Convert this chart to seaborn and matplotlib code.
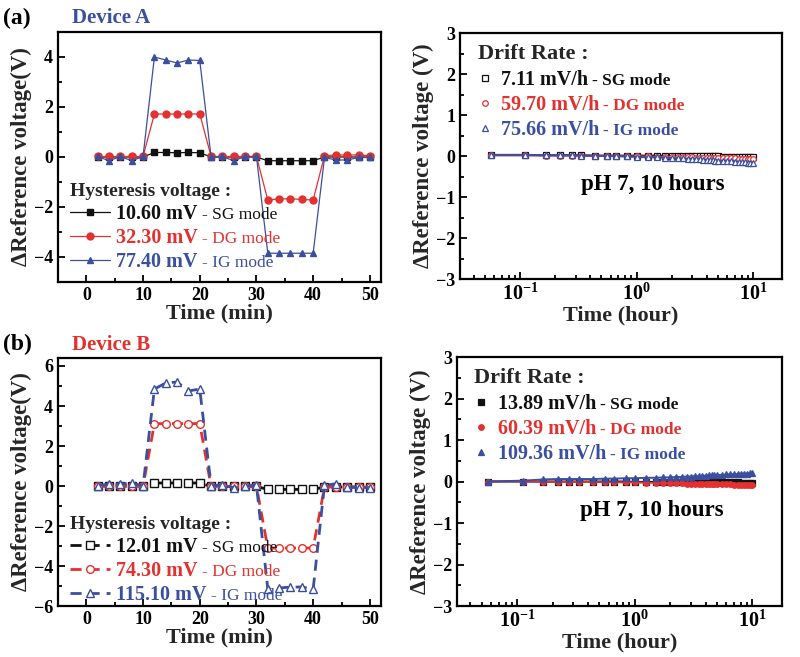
import numpy as np
import pandas as pd
import matplotlib
matplotlib.use("Agg")
import matplotlib.pyplot as plt
from matplotlib.lines import Line2D
from matplotlib.ticker import MultipleLocator, LogLocator, NullFormatter
import seaborn as sns

# Colours
BLACK = "#111111"
RED = "#e2312f"
BLUE = "#3a4f9f"

# ---- Hysteresis data (time in min) ----
time_min = [2, 4, 6, 8, 10, 12, 14, 16, 18, 20, 22, 24, 26, 28, 30,
            32, 34, 36, 38, 40, 42, 44, 46, 48, 50]

a_sg = [0.0, 0.0, 0.0, 0.0, 0.0, 0.18, 0.18, 0.17, 0.18, 0.17, 0.0, 0.0, 0.0, 0.0, 0.0,
        -0.15, -0.15, -0.15, -0.15, -0.15, 0.0, 0.0, 0.0, 0.0, 0.0]
a_dg = [0.02, 0.02, 0.02, 0.02, 0.02, 1.72, 1.72, 1.72, 1.72, 1.72, 0.02, 0.02, 0.02, 0.02, 0.02,
        -1.72, -1.68, -1.67, -1.70, -1.72, 0.05, 0.08, 0.08, 0.08, 0.05]
a_ig = [0.02, -0.15, 0.02, -0.15, 0.02, 4.0, 3.88, 3.76, 3.88, 3.86, 0.0, 0.02, -0.15, 0.02, 0.02,
        -3.85, -3.85, -3.85, -3.85, -3.85, -0.02, -0.12, -0.12, -0.02, -0.02]

b_sg = [0.0, 0.0, 0.0, 0.0, 0.0, 0.15, 0.15, 0.15, 0.15, 0.15, -0.02, -0.02, -0.02, -0.02, -0.02,
        -0.17, -0.17, -0.17, -0.17, -0.17, -0.05, -0.05, -0.05, -0.05, -0.05]
b_dg = [0.0, 0.0, 0.0, 0.0, 0.0, 3.12, 3.12, 3.12, 3.12, 3.12, -0.02, -0.02, -0.02, -0.02, -0.02,
        -3.10, -3.10, -3.10, -3.10, -3.10, -0.05, -0.05, -0.05, -0.05, -0.05]
b_ig = [0.02, 0.10, 0.10, 0.15, 0.0, 4.85, 5.15, 5.20, 4.75, 4.85, 0.02, 0.05, -0.08, 0.0, 0.05,
        -5.15, -5.10, -5.05, -5.05, -5.15, 0.05, 0.10, -0.05, -0.08, -0.08]

hyst_a_labels = ["10.60 mV", "32.30 mV", "77.40 mV"]
hyst_b_labels = ["12.01 mV", "74.30 mV", "115.10 mV"]
mode_labels = ["- SG mode", "- DG mode", "- IG mode"]

# ---- Drift data (time in hours) ----
time_h = [0.056, 0.111, 0.167, 0.222, 0.278, 0.333, 0.444, 0.556, 0.667, 0.833, 1.0,
          1.25, 1.5, 1.75, 2.0, 2.25, 2.5, 2.75, 3.0, 3.25, 3.5, 3.75, 4.0, 4.25, 4.5, 4.75, 5.0,
          5.5, 6.0, 6.5, 7.0, 7.5, 8.0, 8.5, 9.0, 9.5, 10.0]

da_sg = [0.02, 0.02, 0.02, 0.02, 0.02, 0.02, 0.01, 0.01, 0.01, 0.01, 0.01,
         0.01, 0.01, 0.0, 0.0, 0.0, 0.0, 0.0, -0.01, -0.01, -0.01, -0.01, -0.01, -0.01, -0.01, -0.01, -0.01,
         -0.02, -0.02, -0.02, -0.02, -0.02, -0.02, -0.02, -0.02, -0.02, -0.02]
da_dg = [0.02, 0.02, 0.01, 0.01, 0.01, 0.01, 0.0, 0.0, 0.0, -0.01, -0.01,
         -0.01, -0.02, -0.02, -0.02, -0.03, -0.03, -0.03, -0.03, -0.04, -0.04, -0.04, -0.04, -0.05, -0.05, -0.05, -0.05,
         -0.05, -0.06, -0.06, -0.06, -0.07, -0.07, -0.07, -0.08, -0.08, -0.08]
da_ig = [0.03, 0.03, 0.02, 0.02, 0.02, 0.01, 0.01, 0.0, 0.0, -0.01, -0.02,
         -0.03, -0.03, -0.04, -0.05, -0.05, -0.06, -0.07, -0.07, -0.08, -0.08, -0.09, -0.09, -0.10, -0.10, -0.11, -0.11,
         -0.12, -0.12, -0.13, -0.14, -0.14, -0.15, -0.15, -0.16, -0.16, -0.17]

db_sg = [0.0, 0.0, 0.0, 0.0, 0.0, 0.0, 0.0, 0.0, 0.0, 0.0, -0.01,
         -0.01, -0.01, -0.01, -0.01, -0.01, -0.01, -0.01, -0.01, -0.01, -0.01, -0.01, -0.01, -0.01, -0.01, -0.01, -0.01,
         -0.02, -0.02, -0.02, -0.02, -0.02, -0.03, -0.03, -0.03, -0.03, -0.03]
db_dg = [0.0, 0.0, -0.01, -0.01, -0.01, -0.01, -0.01, -0.02, -0.02, -0.02, -0.02,
         -0.03, -0.03, -0.03, -0.04, -0.04, -0.04, -0.05, -0.05, -0.05, -0.05, -0.06, -0.06, -0.06, -0.06, -0.06, -0.07,
         -0.07, -0.07, -0.07, -0.08, -0.08, -0.08, -0.08, -0.09, -0.09, -0.09]
db_ig = [0.0, 0.02, 0.05, 0.06, 0.06, 0.06, 0.06, 0.07, 0.07, 0.08, 0.08,
         0.09, 0.09, 0.10, 0.10, 0.11, 0.11, 0.12, 0.12, 0.13, 0.13, 0.14, 0.14, 0.15, 0.15, 0.15, 0.16,
         0.16, 0.17, 0.17, 0.18, 0.18, 0.19, 0.19, 0.19, 0.20, 0.20]

drift_a_labels = ["7.11 mV/h", "59.70 mV/h", "75.66 mV/h"]
drift_b_labels = ["13.89 mV/h", "60.39 mV/h", "109.36 mV/h"]

sns.set_theme(style="ticks")
plt.rcParams["font.family"] = ["Liberation Serif", "DejaVu Serif"]
plt.rcParams["font.weight"] = "bold"
plt.rcParams["axes.labelweight"] = "bold"
plt.rcParams["mathtext.fontset"] = "custom"
plt.rcParams["mathtext.rm"] = "Liberation Serif:bold"
plt.rcParams["mathtext.it"] = "Liberation Serif:bold"
plt.rcParams["mathtext.bf"] = "Liberation Serif:bold"

fig = plt.figure(figsize=(8, 6.57), dpi=100)
ax_tl = fig.add_axes([0.0725, 0.5708, 0.404, 0.3805])
ax_tr = fig.add_axes([0.575, 0.5753, 0.4025, 0.3744])
ax_bl = fig.add_axes([0.0725, 0.0776, 0.404, 0.3775])
ax_br = fig.add_axes([0.571, 0.0776, 0.406, 0.379])

colors = [BLACK, RED, BLUE]
markers = ["s", "o", "^"]


def style_axes(ax):
    for s in ax.spines.values():
        s.set_linewidth(1.6)
        s.set_color("black")
    ax.tick_params(which="both", direction="in", top=False, right=False,
                   labelsize=13, width=1.3, colors="black")
    ax.tick_params(which="major", length=5)
    ax.tick_params(which="minor", length=3)
    for t in ax.get_xticklabels() + ax.get_yticklabels():
        t.set_fontweight("bold")


def add_suffixes(ax, leg, weight):
    # small "- XX mode" text right after each bold legend value
    for t, c, mode in zip(leg.get_texts(), colors, mode_labels):
        ax.annotate(mode, xy=(1, 0), xycoords=t, xytext=(3, 0.6),
                    textcoords="offset points", ha="left", va="bottom",
                    fontsize=12.5, fontweight=weight, color=c)


def hysteresis_panel(ax, series, labels, filled, dashed, ylim, yticks, anchor_y):
    handles = []
    for y, c, m, lab in zip(series, colors, markers, labels):
        df = pd.DataFrame({"t": time_min, "v": y})
        kw = dict(color=c, marker=m, markersize=5 if filled else 5.5,
                  markeredgecolor=c, markeredgewidth=1.0,
                  markerfacecolor=c if filled else "white",
                  linewidth=2.0 if dashed else 0.9,
                  linestyle=(0, (4, 2.5)) if dashed else "-")
        sns.lineplot(data=df, x="t", y="v", ax=ax, legend=False, **kw)
        handles.append(Line2D([], [], **kw))
    ax.set_xlim(-5, 52)
    ax.set_ylim(*ylim)
    ax.set_xticks([0, 10, 20, 30, 40, 50])
    ax.xaxis.set_minor_locator(MultipleLocator(5))
    ax.set_yticks(yticks)
    ax.yaxis.set_minor_locator(MultipleLocator(1))
    ax.set_xlabel("Time (min)", fontsize=16, fontweight="bold", labelpad=0)
    ax.set_ylabel("ΔReference voltage(V)", fontsize=16.5, fontweight="bold", labelpad=1)
    style_axes(ax)
    leg = ax.legend(handles, labels, loc="lower left", bbox_to_anchor=(0.0, anchor_y),
                    frameon=False, title="Hysteresis voltage :", handlelength=2.0,
                    handletextpad=0.3, labelspacing=0.2, borderaxespad=0.2,
                    prop={"size": 14.5, "weight": "bold"},
                    title_fontproperties={"size": 14, "weight": "bold"})
    leg._legend_box.align = "left"
    for t, c in zip(leg.get_texts(), colors):
        t.set_color(c)
    add_suffixes(ax, leg, "normal")


def drift_panel(ax, series, labels, filled):
    handles = []
    for y, c, m in zip(series, colors, markers):
        df = pd.DataFrame({"t": time_h, "v": y})
        kw = dict(color=c, marker=m, markersize=4,
                  markeredgecolor=c, markeredgewidth=0.9,
                  markerfacecolor=c if filled else "white")
        sns.lineplot(data=df, x="t", y="v", ax=ax, legend=False, linewidth=1.4, **kw)
        handles.append(Line2D([], [], linestyle="none", **kw))
    ax.set_xscale("log")
    ax.set_xlim(0.0306, 17.7)
    ax.set_ylim(-3, 3)
    ax.set_yticks([-3, -2, -1, 0, 1, 2, 3])
    ax.yaxis.set_minor_locator(MultipleLocator(0.5))
    ax.xaxis.set_major_locator(LogLocator(base=10, numticks=10))
    ax.xaxis.set_minor_locator(LogLocator(base=10, subs=np.arange(2, 10), numticks=10))
    ax.xaxis.set_minor_formatter(NullFormatter())
    ax.set_xlabel("Time (hour)", fontsize=16, fontweight="bold", labelpad=0)
    ax.set_ylabel("ΔReference voltage (V)", fontsize=16.5, fontweight="bold", labelpad=1)
    style_axes(ax)
    ax.tick_params(axis="x", labelsize=14.5)
    leg = ax.legend(handles, labels, loc="upper left", bbox_to_anchor=(0.02, 1.0),
                    frameon=False, title="Drift Rate :", handlelength=0.7,
                    handletextpad=0.45, labelspacing=0.25, borderaxespad=0.15,
                    prop={"size": 14.5, "weight": "bold"},
                    title_fontproperties={"size": 16, "weight": "bold"})
    leg._legend_box.align = "left"
    leg._legend_box.sep = 4
    for t, c in zip(leg.get_texts(), colors):
        t.set_color(c)
    add_suffixes(ax, leg, "bold")
    ax.text(0.6, 0.385, "pH 7, 10 hours", transform=ax.transAxes, ha="center",
            va="center", fontsize=16.5, fontweight="bold", color="black")


hysteresis_panel(ax_tl, [a_sg, a_dg, a_ig], hyst_a_labels, True, False,
                 (-5, 5), [-4, -2, 0, 2, 4], -0.008)
hysteresis_panel(ax_bl, [b_sg, b_dg, b_ig], hyst_b_labels, False, True,
                 (-6, 6.4), [-6, -4, -2, 0, 2, 4, 6], -0.045)
drift_panel(ax_tr, [da_sg, da_dg, da_ig], drift_a_labels, False)
drift_panel(ax_br, [db_sg, db_dg, db_ig], drift_b_labels, True)

# panel headers
fig.text(0.004, 0.972, "(a)", fontsize=17, fontweight="bold", color="black", va="center")
fig.text(0.09, 0.972, "Device A", fontsize=15, fontweight="bold", color=BLUE, va="center")
fig.text(0.004, 0.475, "(b)", fontsize=17, fontweight="bold", color="black", va="center")
fig.text(0.09, 0.475, "Device B", fontsize=15, fontweight="bold", color=RED, va="center")

# legend texts get their place on the first draw; the suffixes follow them
fig.canvas.draw()
fig.savefig("out.png", dpi=100)
